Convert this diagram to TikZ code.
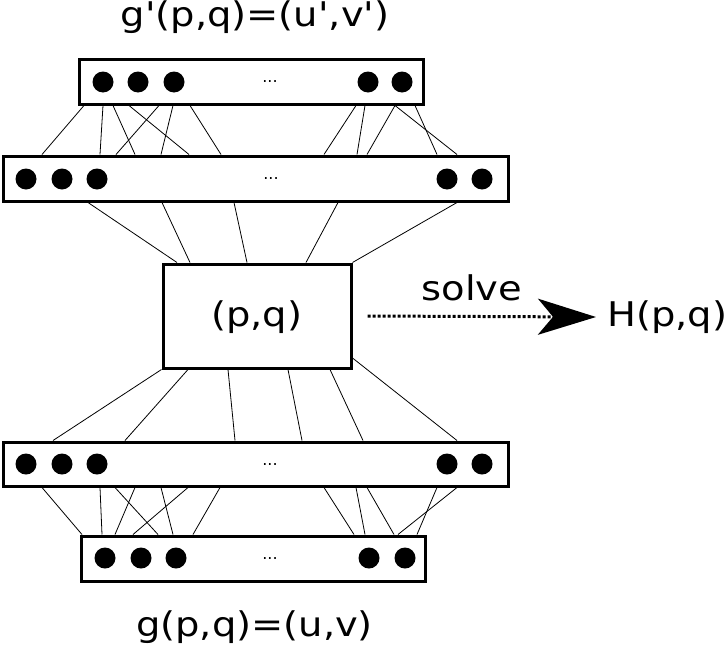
\documentclass[tikz,border=0pt]{standalone}
\usepackage{fontspec}
\setmainfont{DejaVu Sans}[Ligatures=TeXOff, FakeStretch=1.13]
\newfontfamily\plainfont{DejaVu Sans}
\usetikzlibrary{arrows.meta}
\begin{document}
\begin{tikzpicture}[x=1pt,y=-1pt,
  layer/.style={draw, line width=3pt, fill=white, inner sep=0pt},
  unit/.style={circle, fill=black, minimum size=21pt, inner sep=0pt},
  conn/.style={line width=0.8pt},
  lbl/.style={font=\fontsize{34}{40}\selectfont, inner sep=0pt},
  more/.style={font=\plainfont\fontsize{16}{18}\selectfont, inner sep=0pt},
  solvearrow/.style={line width=3pt, dash pattern=on 3pt off 2pt,
    -{Stealth[length=58pt,width=36pt,inset=15pt]}}
]
\useasboundingbox (0,0) rectangle (727,645);
% layer boxes
\node[layer, minimum width=344pt, minimum height=45pt] (L1) at (251,81.5) {};
\node[layer, minimum width=505pt, minimum height=45pt] (L2) at (255.5,178.5) {};
\node[layer, minimum width=188pt, minimum height=104pt] (mid) at (257,316) {};
\node[layer, minimum width=505pt, minimum height=44pt] (L3) at (255.5,464) {};
\node[layer, minimum width=344pt, minimum height=45pt] (L4) at (253,558.5) {};
% units
\foreach \x [count=\i] in {103,138,174,368,402} \node[unit] (a\i) at (\x,82) {};
\foreach \x [count=\i] in {26,62,97,447,482} \node[unit] (b\i) at (\x,179) {};
\foreach \x [count=\i] in {26,62,97,447,482} \node[unit] (c\i) at (\x,464) {};
\foreach \x [count=\i] in {105,141,176,369,405} \node[unit] (d\i) at (\x,558) {};
\node[more] (m1) at (270,82) {...};
\node[more] (m2) at (271,179) {...};
\node[more] (m3) at (270,464) {...};
\node[more] (m4) at (270,558) {...};
% texts
\node[lbl, anchor=base] (pq) at (256.5,326) {(p,q)};
\node[lbl, anchor=base] (gtop) at (255,26) {g'(p,q)=(u',v')};
\node[lbl, anchor=base] (gbot) at (254.5,636) {g(p,q)=(u,v)};
\node[lbl, anchor=base] (solve) at (472,300) {solve};
\node[lbl, anchor=base west] (H) at (607,326) {H(p,q)};
\coordinate (tip) at (596,317);
% connectors L1 - L2
\foreach \a/\b in {84/42,103/100,113/135,129/189,159/116,173/161,190/221,356/324,365/357,395/367,395/457,415/437}
  \draw[conn] (L1.south -| \a,0) -- (L2.north -| \b,0);
% L2 - mid
\foreach \a/\b in {88/177,162/190,234/247,338/306}
  \draw[conn] (L2.south -| \a,0) -- (mid.north -| \b,0);
\draw[conn] (L2.south -| 457,0) -- (mid.north east);
% mid - L3
\draw[conn] (mid.south west) -- (L3.north -| 53,0);
\foreach \a/\b in {188/125,228/235,288/302,330/363}
  \draw[conn] (mid.south -| \a,0) -- (L3.north -| \b,0);
\draw[conn] (mid.east |- 0,358) -- (L3.north -| 457,0);
% L3 - L4
\foreach \a/\b in {42/82,100/102,115/158,135/115,161/173,188/133,220/193,324/354,356/365,367/394,437/417,457/398}
  \draw[conn] (L3.south -| \a,0) -- (L4.north -| \b,0);
% solve arrow
\draw[solvearrow] ([xshift=15pt]mid.east) -- (tip);
\end{tikzpicture}
\end{document}
